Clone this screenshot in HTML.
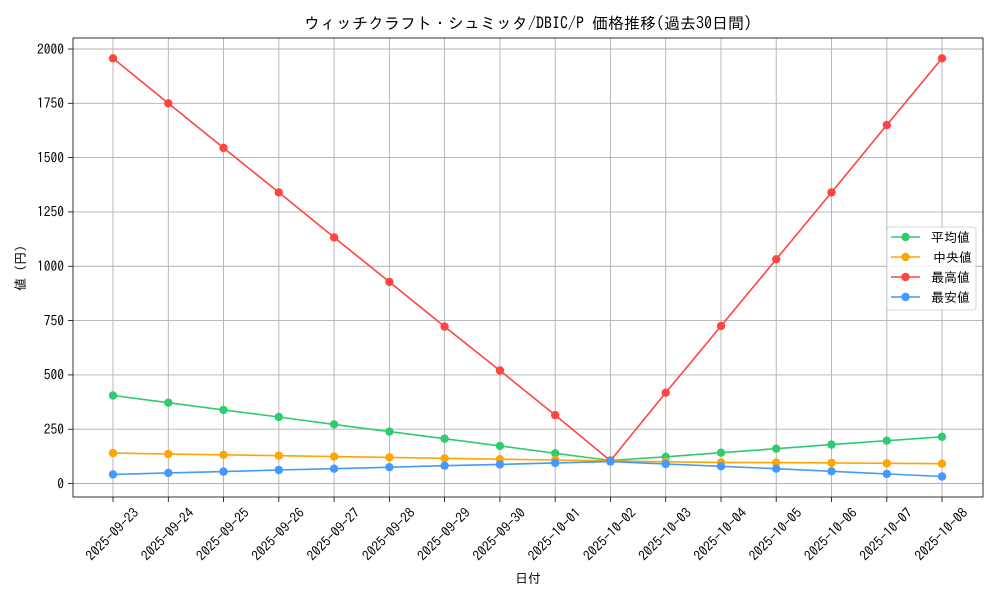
<!DOCTYPE html>
<html><head><meta charset="utf-8"><style>
html,body{margin:0;padding:0;background:#fff}
svg{display:block;font-family:"IPAGothic","Noto Sans CJK JP",sans-serif}
</style></head><body>
<svg width="1000" height="600" viewBox="0 0 1000 600" xmlns="http://www.w3.org/2000/svg">
<defs>
<marker id="mg" markerUnits="userSpaceOnUse" markerWidth="10" markerHeight="10" refX="5" refY="5"><circle cx="5" cy="5" r="4.2" fill="#2ecc71"/></marker>
<marker id="mo" markerUnits="userSpaceOnUse" markerWidth="10" markerHeight="10" refX="5" refY="5"><circle cx="5" cy="5" r="4.2" fill="#ffa500"/></marker>
<marker id="mr" markerUnits="userSpaceOnUse" markerWidth="10" markerHeight="10" refX="5" refY="5"><circle cx="5" cy="5" r="4.2" fill="#ff4444"/></marker>
<marker id="mb" markerUnits="userSpaceOnUse" markerWidth="10" markerHeight="10" refX="5" refY="5"><circle cx="5" cy="5" r="4.2" fill="#4499ff"/></marker>
</defs>
<g stroke="#b0b0b0" stroke-width="0.9">
<line x1="113" y1="38" x2="113" y2="497"/><line x1="168.3" y1="38" x2="168.3" y2="497"/><line x1="223.5" y1="38" x2="223.5" y2="497"/><line x1="278.8" y1="38" x2="278.8" y2="497"/><line x1="334.1" y1="38" x2="334.1" y2="497"/><line x1="389.4" y1="38" x2="389.4" y2="497"/><line x1="444.6" y1="38" x2="444.6" y2="497"/><line x1="499.9" y1="38" x2="499.9" y2="497"/><line x1="555.2" y1="38" x2="555.2" y2="497"/><line x1="610.4" y1="38" x2="610.4" y2="497"/><line x1="665.7" y1="38" x2="665.7" y2="497"/><line x1="721" y1="38" x2="721" y2="497"/><line x1="776.2" y1="38" x2="776.2" y2="497"/><line x1="831.5" y1="38" x2="831.5" y2="497"/><line x1="886.8" y1="38" x2="886.8" y2="497"/><line x1="942" y1="38" x2="942" y2="497"/>
<line x1="73" y1="483.5" x2="983" y2="483.5"/><line x1="73" y1="429.2" x2="983" y2="429.2"/><line x1="73" y1="374.9" x2="983" y2="374.9"/><line x1="73" y1="320.6" x2="983" y2="320.6"/><line x1="73" y1="266.25" x2="983" y2="266.25"/><line x1="73" y1="211.9" x2="983" y2="211.9"/><line x1="73" y1="157.6" x2="983" y2="157.6"/><line x1="73" y1="103.3" x2="983" y2="103.3"/><line x1="73" y1="49" x2="983" y2="49"/>
</g>
<rect x="73" y="38" width="910" height="459" fill="none" stroke="#000" stroke-width="0.8"/>
<g stroke="#000" stroke-width="0.8">
<line x1="68" y1="483.5" x2="73" y2="483.5"/><line x1="68" y1="429.2" x2="73" y2="429.2"/><line x1="68" y1="374.9" x2="73" y2="374.9"/><line x1="68" y1="320.6" x2="73" y2="320.6"/><line x1="68" y1="266.25" x2="73" y2="266.25"/><line x1="68" y1="211.9" x2="73" y2="211.9"/><line x1="68" y1="157.6" x2="73" y2="157.6"/><line x1="68" y1="103.3" x2="73" y2="103.3"/><line x1="68" y1="49" x2="73" y2="49"/>
<line x1="113" y1="497" x2="113" y2="502"/><line x1="168.3" y1="497" x2="168.3" y2="502"/><line x1="223.5" y1="497" x2="223.5" y2="502"/><line x1="278.8" y1="497" x2="278.8" y2="502"/><line x1="334.1" y1="497" x2="334.1" y2="502"/><line x1="389.4" y1="497" x2="389.4" y2="502"/><line x1="444.6" y1="497" x2="444.6" y2="502"/><line x1="499.9" y1="497" x2="499.9" y2="502"/><line x1="555.2" y1="497" x2="555.2" y2="502"/><line x1="610.4" y1="497" x2="610.4" y2="502"/><line x1="665.7" y1="497" x2="665.7" y2="502"/><line x1="721" y1="497" x2="721" y2="502"/><line x1="776.2" y1="497" x2="776.2" y2="502"/><line x1="831.5" y1="497" x2="831.5" y2="502"/><line x1="886.8" y1="497" x2="886.8" y2="502"/><line x1="942" y1="497" x2="942" y2="502"/>
</g>
<g font-size="13.5" text-anchor="end" fill="#000">
<text x="64" y="488.5">0</text><text x="64" y="434">250</text><text x="64" y="379.5">500</text><text x="64" y="325.5">750</text><text x="64" y="271">1000</text><text x="64" y="216.5">1250</text><text x="64" y="162.5">1500</text><text x="64" y="108">1750</text><text x="64" y="54">2000</text>
</g>
<g font-size="13.5" text-anchor="middle" dominant-baseline="central" fill="#000">
<text transform="translate(112,534) rotate(-45)">2025-09-23</text>
<text transform="translate(167.3,534) rotate(-45)">2025-09-24</text>
<text transform="translate(222.5,534) rotate(-45)">2025-09-25</text>
<text transform="translate(277.8,534) rotate(-45)">2025-09-26</text>
<text transform="translate(333.1,534) rotate(-45)">2025-09-27</text>
<text transform="translate(388.4,534) rotate(-45)">2025-09-28</text>
<text transform="translate(443.6,534) rotate(-45)">2025-09-29</text>
<text transform="translate(498.9,534) rotate(-45)">2025-09-30</text>
<text transform="translate(554.2,534) rotate(-45)">2025-10-01</text>
<text transform="translate(609.4,534) rotate(-45)">2025-10-02</text>
<text transform="translate(664.7,534) rotate(-45)">2025-10-03</text>
<text transform="translate(720,534) rotate(-45)">2025-10-04</text>
<text transform="translate(775.2,534) rotate(-45)">2025-10-05</text>
<text transform="translate(830.5,534) rotate(-45)">2025-10-06</text>
<text transform="translate(885.8,534) rotate(-45)">2025-10-07</text>
<text transform="translate(941,534) rotate(-45)">2025-10-08</text>
</g>
<g fill="none" stroke-width="1.6">
<polyline stroke="#2ecc71" marker-start="url(#mg)" marker-mid="url(#mg)" marker-end="url(#mg)" points="113,395.5 168.3,402.7 223.5,409.9 278.8,417 334.1,424.4 389.4,431.6 444.6,438.7 499.9,445.9 555.2,453.3 610.4,460.5 665.7,456.8 721,452.7 776.2,448.7 831.5,444.6 886.8,440.7 942,436.8"/>
<polyline stroke="#ffa500" marker-start="url(#mo)" marker-mid="url(#mo)" marker-end="url(#mo)" points="113,453.1 168.3,454 223.5,454.8 278.8,455.7 334.1,456.6 389.4,457.4 444.6,458.3 499.9,459.2 555.2,460 610.4,460.9 665.7,461.8 721,462.4 776.2,462.6 831.5,462.9 886.8,463.3 942,463.7"/>
<polyline stroke="#ff4444" marker-start="url(#mr)" marker-mid="url(#mr)" marker-end="url(#mr)" points="113,58.3 168.3,103.3 223.5,147.9 278.8,192.4 334.1,237.4 389.4,281.9 444.6,326.6 499.9,370.5 555.2,415.1 610.4,460.7 665.7,392.7 721,326 776.2,259.3 831.5,192.4 886.8,125 942,58.3"/>
<polyline stroke="#4499ff" marker-start="url(#mb)" marker-mid="url(#mb)" marker-end="url(#mb)" points="113,474.4 168.3,472.9 223.5,471.6 278.8,470 334.1,468.7 389.4,467.2 444.6,465.7 499.9,464.4 555.2,462.9 610.4,461.6 665.7,464 721,466.3 776.2,468.7 831.5,471.3 886.8,473.9 942,476.5"/>
</g>
<rect x="887" y="227" width="89" height="83" rx="3" fill="#fff" fill-opacity="0.85" stroke="#ccc" stroke-width="0.8"/>
<g stroke-width="1.6">
<line x1="891" y1="237" x2="920" y2="237" stroke="#2ecc71"/><circle cx="905.5" cy="237" r="4.2" fill="#2ecc71"/>
<line x1="891" y1="257" x2="920" y2="257" stroke="#ffa500"/><circle cx="905.5" cy="257" r="4.2" fill="#ffa500"/>
<line x1="891" y1="277" x2="920" y2="277" stroke="#ff4444"/><circle cx="905.5" cy="277" r="4.2" fill="#ff4444"/>
<line x1="891" y1="297" x2="920" y2="297" stroke="#4499ff"/><circle cx="905.5" cy="297" r="4.2" fill="#4499ff"/>
</g>
<g font-size="13" fill="#000">
<text x="931" y="242">平均値</text><text x="933" y="262">中央値</text><text x="931" y="282">最高値</text><text x="931" y="302">最安値</text>
</g>
<text x="528" y="29" font-size="16" text-anchor="middle">ウィッチクラフト・シュミッタ/DBIC/P 価格推移(過去30日間)</text>
<text x="528" y="583" font-size="13" text-anchor="middle">日付</text>
<text transform="translate(25,268) rotate(-90)" font-size="13" text-anchor="middle">値 (円)</text>
</svg>
</body></html>
